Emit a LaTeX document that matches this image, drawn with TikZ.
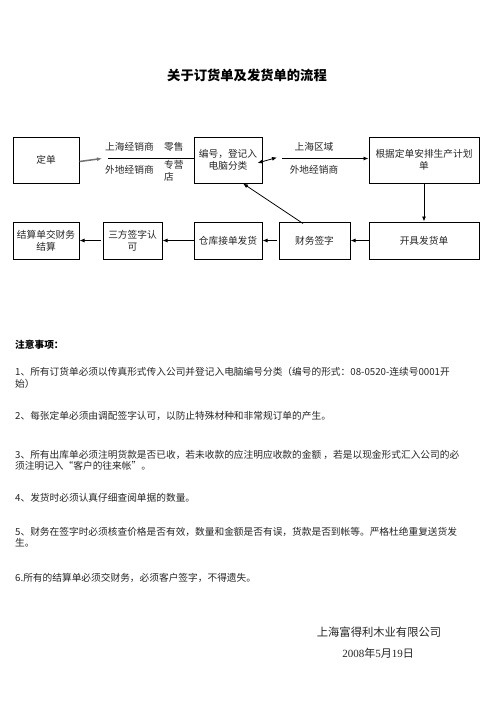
\documentclass[tikz,border=0pt]{standalone}
\usepackage{fontspec}
\setmainfont{Noto Sans CJK SC}
\newfontfamily\latserif{Liberation Serif}
\usetikzlibrary{arrows.meta}
\begin{document}
\begin{tikzpicture}[x=1pt,y=-1pt,
  box/.style={draw=black,line width=1pt,inner sep=0pt,align=center,font=\fontsize{9.7}{12}\selectfont,text=black!85},
  lbl/.style={inner sep=0pt,font=\fontsize{9.7}{12}\selectfont,text=black!85},
  conn/.style={line width=0.8pt},
  arr/.style={line width=0.8pt,-{Latex[length=5pt,width=4pt]}},
  note/.style={anchor=west,inner sep=0pt,align=left,font=\fontsize{9.7}{11.5}\selectfont,text=black!85}]
\useasboundingbox[fill=white] (0,0) rectangle (496,702);

% title
\node[inner sep=0pt,font=\fontsize{13.3}{15}\selectfont\bfseries] (title) at (247,75) {关于订货单及发货单的流程};

% boxes
\node[box,minimum width=66pt,minimum height=46pt] (dd) at (46,160) {定单};
\node[box,minimum width=68pt,minimum height=46pt] (bh) at (228,160) {编号，登记入\\电脑分类};
\node[box,minimum width=110pt,minimum height=46pt] (gj) at (424,160) {根据定单安排生产计划\\单};
\node[box,minimum width=110pt,minimum height=37pt] (kj) at (424,240.5) {开具发货单};
\node[box,minimum width=71pt,minimum height=37pt] (cw) at (314.5,240.5) {财务签字};
\node[box,minimum width=68pt,minimum height=37pt] (ck) at (228,240.5) {仓库接单发货};
\node[box,minimum width=59pt,minimum height=37pt] (sf) at (132.5,240.5) {三方签字认\\可};
\node[box,minimum width=66pt,minimum height=37pt] (js) at (46,240.5) {结算单交财务\\结算};

% labels
\node[lbl,anchor=west] (l1) at (105,147) {上海经销商};
\node[lbl,anchor=west] (l2) at (105,170) {外地经销商};
\node[lbl,anchor=west] (l3) at (164,147) {零售};
\node[lbl,anchor=west,align=left] (l4) at (164,171) {专营\\店};
\node[lbl] (l5) at (314,147) {上海区域};
\node[lbl] (l6) at (314,170) {外地经销商};

% connectors top row
\coordinate (a1) at (102,158.5);
\coordinate (a2) at (108,158.5);
\coordinate (a3) at (277,157.5);
\coordinate (a4) at (282,158.5);
\draw[arr,draw=black!55,line width=1.5pt] ([yshift=-1.5pt]dd.east) -- (a1);
\draw[conn] (a2) -- (a2 -| bh.west);
\draw[line width=0.8pt,{Latex[length=5pt,width=4pt]}-{Latex[length=5pt,width=4pt]}] ([xshift=-5pt,yshift=-3pt]bh.east) -- (a3);
\draw[arr] (a4) -- (a4 -| gj.west);

% vertical and bottom row
\draw[arr] (gj.south) -- (kj.north);
\draw[arr] (kj.west) -- (cw.east);
\draw[arr] ([xshift=-2pt]cw.west) -- (ck.east);
\draw[arr] (ck.west) -- (sf.east);
\draw[arr] ([xshift=-2pt]sf.west) -- (js.east);
\draw[arr] ([xshift=-11.5pt,yshift=-2pt]cw.north) -- ([xshift=15pt]bh.south);

% notes
\node[note,font=\fontsize{9.7}{11.5}\selectfont\bfseries,text=black] (n0) at (15,345) {注意事项：};
\node[note] (n1) at (15,378) {1、所有订货单必须以传真形式传入公司并登记入电脑编号分类（编号的形式：08-0520-连续号0001开\\始）};
\node[note] (n2) at (15,416) {2、每张定单必须由调配签字认可，以防止特殊材种和非常规订单的产生。};
\node[note] (n3) at (15,460.5) {3、所有出库单必须注明货款是否已收，若未收款的应注明应收款的金额 ，若是以现金形式汇入公司的必\\须注明记入“客户的往来帐”。};
\node[note] (n4) at (15,497.5) {4、发货时必须认真仔细查阅单据的数量。};
\node[note] (n5) at (15,537) {5、财务在签字时必须核查价格是否有效，数量和金额是否有误，货款是否到帐等。严格杜绝重复送货发\\生。};
\node[note] (n6) at (15,577.5) {6.所有的结算单必须交财务，必须客户签字，不得遗失。};

% signature
\node[inner sep=0pt,font=\fontsize{11.3}{13}\selectfont,text=black!85] (co) at (379,632) {上海富得利木业有限公司};
\node[inner sep=0pt,font=\fontsize{11}{13}\selectfont,text=black!85] (dt) at (378,653.5) {{\latserif 2008}年{\latserif 5}月{\latserif 19}日};
\end{tikzpicture}
\end{document}
